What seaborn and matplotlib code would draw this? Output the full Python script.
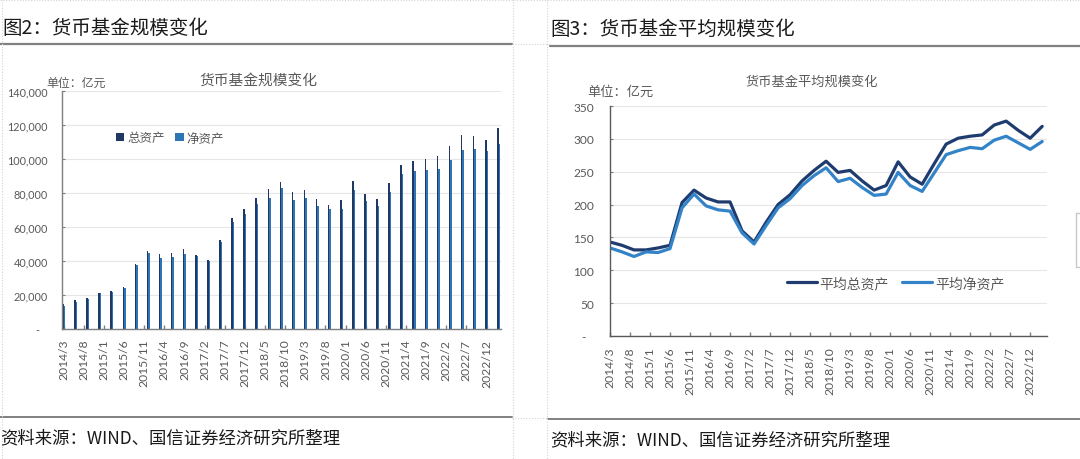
import matplotlib
matplotlib.use("Agg")
import matplotlib.pyplot as plt
from matplotlib.lines import Line2D
from matplotlib.transforms import ScaledTranslation
import pandas as pd
import seaborn as sns

# ---------------- data ----------------
QUARTERS = ["2014/3", "2014/6", "2014/9", "2014/12",
            "2015/3", "2015/6", "2015/9", "2015/12",
            "2016/3", "2016/6", "2016/9", "2016/12",
            "2017/3", "2017/6", "2017/9", "2017/12",
            "2018/3", "2018/6", "2018/9", "2018/12",
            "2019/3", "2019/6", "2019/9", "2019/12",
            "2020/3", "2020/6", "2020/9", "2020/12",
            "2021/3", "2021/6", "2021/9", "2021/12",
            "2022/3", "2022/6", "2022/9", "2022/12",
            "2023/3"]

# 亿元
TOTAL_ASSETS = [14700, 17000, 18400, 21300, 22300, 25000, 38100, 45900, 44400, 44600,
                47100, 43400, 40700, 52400, 65100, 70800, 77000, 82100, 86400, 80500,
                81700, 76200, 72700, 75900, 87200, 79600, 76200, 86000, 96600, 99100,
                100100, 101700, 107500, 114000, 113800, 111000, 118300]
NET_ASSETS = [13700, 16000, 17600, 20900, 21700, 23900, 37500, 45000, 41600, 42400,
              44200, 43000, 40100, 51200, 63000, 67400, 73700, 77200, 82700, 75700,
              77200, 72300, 70400, 70800, 81700, 75500, 72300, 80500, 90900, 92700,
              93800, 94200, 99700, 105200, 106000, 104600, 109100]

AVG_TOTAL = [143, 138, 131, 131, 134, 138, 203, 222, 210, 204,
             204, 160, 143, 173, 200, 215, 236, 252, 266, 249,
             252, 236, 222, 229, 265, 242, 231, 262, 292, 301,
             304, 306, 321, 327, 313, 301, 319]
AVG_NET = [134, 128, 121, 128, 127, 133, 195, 216, 198, 192,
           190, 157, 140, 168, 195, 209, 229, 244, 256, 235,
           240, 226, 214, 216, 249, 229, 220, 248, 276, 282,
           287, 285, 298, 304, 294, 284, 296]

BAR_SERIES = ["总资产", "净资产"]
LINE_SERIES = ["平均总资产", "平均净资产"]

TICK_LABELS = ["2014/3", "2014/8", "2015/1", "2015/6", "2015/11", "2016/4",
               "2016/9", "2017/2", "2017/7", "2017/12", "2018/5", "2018/10",
               "2019/3", "2019/8", "2020/1", "2020/6", "2020/11", "2021/4",
               "2021/9", "2022/2", "2022/7", "2022/12"]
Y_TICKS_LEFT = [0, 20000, 40000, 60000, 80000, 100000, 120000, 140000]
Y_TICKS_RIGHT = [0, 50, 100, 150, 200, 250, 300, 350]

TITLE_LEFT = "图2：货币基金规模变化"
TITLE_RIGHT = "图3：货币基金平均规模变化"
INNER_LEFT = "货币基金规模变化"
INNER_RIGHT = "货币基金平均规模变化"
UNIT = "单位：亿元"
SOURCE = "资料来源：WIND、国信证券经济研究所整理"


def month_index(s):
    y, m = s.split("/")
    return (int(y) - 2014) * 12 + int(m) - 3


# ---------------- style ----------------
sns.set_theme(style="white")
plt.rcParams["font.family"] = ["Noto Sans CJK SC", "DejaVu Sans"]
plt.rcParams["lines.solid_joinstyle"] = "round"
plt.rcParams["lines.solid_capstyle"] = "round"

DARK = "#1F3864"
MID = "#2E75B6"
LINE_DARK = "#1F3C6E"
LINE_LIGHT = "#3383C8"
TXT = "#595959"
AXC = "#7F7F7F"
GRID = "#E6E6E6"

W, H = 1080, 460
fig = plt.figure(figsize=(W / 100, H / 100), dpi=100)
fig.patch.set_facecolor("white")


def fx(x):
    return x / W


def fy(y):
    return 1 - y / H


def axes_px(x0, y0, x1, y1):
    return fig.add_axes([x0 / W, 1 - y1 / H, (x1 - x0) / W, (y1 - y0) / H])


def fline(xs, ys, **kw):
    fig.add_artist(Line2D([fx(v) for v in xs], [fy(v) for v in ys],
                          transform=fig.transFigure, **kw))


mi = [month_index(q) for q in QUARTERS]
n = len(QUARTERS)
tick_pos = [month_index(t) for t in TICK_LABELS]

# ---------------- left: bar chart ----------------
ax1 = axes_px(62, 92, 501, 330)
bar_df = pd.DataFrame({
    "m": mi * 2,
    "value": TOTAL_ASSETS + NET_ASSETS,
    "series": [BAR_SERIES[0]] * n + [BAR_SERIES[1]] * n,
})
sns.barplot(data=bar_df, x="m", y="value", hue="series", hue_order=BAR_SERIES,
            native_scale=True, width=0.25, dodge=True, palette=[DARK, MID],
            saturation=1, linewidth=0, errorbar=None, ax=ax1)
ax1.set_xlim(-0.4, 108.6)
ax1.set_ylim(0, 140000)

# ---------------- right: line chart ----------------
ax2 = axes_px(610, 107, 1047, 337)
line_df = pd.DataFrame({
    "m": mi * 2,
    "value": AVG_TOTAL + AVG_NET,
    "series": [LINE_SERIES[0]] * n + [LINE_SERIES[1]] * n,
})
sns.lineplot(data=line_df, x="m", y="value", hue="series", hue_order=LINE_SERIES,
             palette=[LINE_DARK, LINE_LIGHT], linewidth=2.3, ax=ax2)
ax2.set_xlim(0, 109.2)
ax2.set_ylim(0, 350)

# ---------------- axes styling ----------------
for ax, yt, ylabels, ysize, ypad, xpad in (
    (ax1, Y_TICKS_LEFT, ["-"] + [f"{v:,}" for v in Y_TICKS_LEFT[1:]], 7.8, 10, 7),
    (ax2, Y_TICKS_RIGHT, ["-"] + [str(v) for v in Y_TICKS_RIGHT[1:]], 8.6, 11.5, 7.5),
):
    ax.set_facecolor("white")
    ax.set_xlabel("")
    ax.set_ylabel("")
    for s in ("top", "right"):
        ax.spines[s].set_visible(False)
    for s in ("left", "bottom"):
        ax.spines[s].set_color(AXC)
        ax.spines[s].set_linewidth(1.0)
    ax.set_axisbelow(True)
    ax.yaxis.grid(True, color=GRID, linewidth=0.8)
    ax.xaxis.grid(False)
    ax.set_yticks(yt)
    ax.set_yticklabels(ylabels, fontsize=ysize, color=TXT, fontfamily="Lato")
    ax.set_xticks(tick_pos)
    ax.set_xticklabels(TICK_LABELS, rotation=90, fontsize=8.7, color=TXT,
                       fontfamily="Lato")
    ax.tick_params(axis="x", bottom=True, direction="in", length=3, width=1,
                   color=AXC, pad=xpad)
    ax.tick_params(axis="y", left=True, direction="in", length=2, width=0.8,
                   color=AXC, pad=ypad)
    # zero label "-" is set a little to the left, as in the accounting format
    zl = ax.yaxis.get_major_ticks()[0].label1
    zl.set_transform(zl.get_transform() + ScaledTranslation(-6 / 72, 0, fig.dpi_scale_trans))

ax2.spines["left"].set_color("#595959")
ax2.spines["bottom"].set_color("#595959")

# ---------------- legends ----------------
h1, l1 = ax1.get_legend_handles_labels()
ax1.legend(h1, l1, loc="center left", bbox_to_anchor=(fx(116), fy(139)),
           bbox_transform=fig.transFigure, ncol=2, frameon=False, fontsize=9,
           handlelength=0.65, handleheight=0.65, handletextpad=0.25,
           columnspacing=0.85, borderpad=0, borderaxespad=0, labelcolor=TXT)

h2, l2 = ax2.get_legend_handles_labels()
for hd in h2:
    hd.set_linewidth(2.3)
ax2.legend(h2, l2, loc="center left", bbox_to_anchor=(fx(787), fy(284)),
           bbox_transform=fig.transFigure, ncol=2, frameon=False, fontsize=10,
           handlelength=2.15, handletextpad=0.2, columnspacing=0.95,
           borderpad=0, borderaxespad=0, labelcolor=TXT)

# ---------------- texts ----------------
fig.text(fx(2), fy(28), TITLE_LEFT, fontsize=14, ha="left", va="center",
         color="#1A1A1A", fontweight="medium")
fig.text(fx(550), fy(29), TITLE_RIGHT, fontsize=14, ha="left", va="center",
         color="#1A1A1A", fontweight="medium")

fig.text(fx(258), fy(81), INNER_LEFT, fontsize=10.6, ha="center", va="center", color=TXT)
fig.text(fx(812), fy(82), INNER_RIGHT, fontsize=9.5, ha="center", va="center", color=TXT)
fig.text(fx(46), fy(83), UNIT, fontsize=8.6, ha="left", va="center", color=TXT)
fig.text(fx(587), fy(92), UNIT, fontsize=9.5, ha="left", va="center", color=TXT)

fig.text(fx(0), fy(438), SOURCE, fontsize=12.5, ha="left", va="center", color="#1A1A1A")
fig.text(fx(550), fy(440), SOURCE, fontsize=12.5, ha="left", va="center", color="#1A1A1A")

# ---------------- rules and cell borders ----------------
fline([0, 512], [45, 45], color="#808080", lw=1.6)
fline([550, 1080], [47, 47], color="#808080", lw=1.6)
fline([0, 512], [418, 418], color="#808080", lw=1.4)
fline([548, 1080], [420, 420], color="#808080", lw=1.4)

dotted = dict(color="#D4D4D4", lw=0.8, ls=(0, (1, 1.5)))
fline([2, 2], [0, 460], **dotted)
fline([513, 513], [0, 460], **dotted)
fline([547, 547], [0, 460], **dotted)
fline([0, 1080], [1, 1], **dotted)
fline([512, 550], [45, 45], **dotted)
fline([512, 548], [419, 419], **dotted)
fline([1076, 1076], [214, 268], color="#C8C8C8", lw=1.0)
fline([1076, 1080], [214, 214], color="#C8C8C8", lw=1.0)
fline([1076, 1080], [268, 268], color="#C8C8C8", lw=1.0)

fig.savefig("out.png", dpi=100, facecolor="white")
